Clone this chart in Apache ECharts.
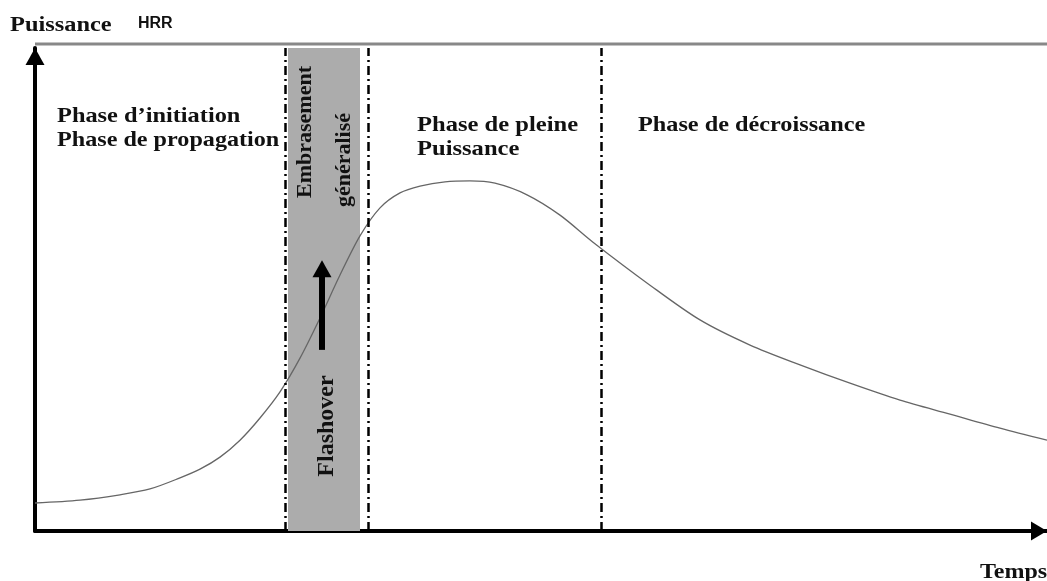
<!DOCTYPE html>
<html>
<head>
<meta charset="utf-8">
<script src="https://cdn.jsdelivr.net/npm/echarts@6/dist/echarts.min.js"></script>
<style>
html, body { margin: 0; padding: 0; background: #fff; }
#main { width: 1047px; height: 581px; }
</style>
</head>
<body>
<div id="main"></div>
<script>
// courbe HRR (temps en unites arbitraires, puissance en %)
let temps = [0, 45, 85, 115, 145, 165, 185, 205, 225, 245, 265, 285, 305, 325, 345, 365, 385, 410, 435, 460, 492, 525, 558, 615, 665, 715, 765, 815, 865, 915, 965, 1012]
let puissance = [5.8, 6.4, 7.5, 8.7, 11.0, 12.8, 15.3, 18.8, 23.4, 28.8, 35.8, 44.1, 53.0, 61.1, 66.9, 70.0, 71.4, 72.3, 72.5, 72.0, 69.6, 65.4, 59.8, 50.9, 43.7, 38.5, 34.4, 30.6, 27.1, 24.2, 21.3, 18.8]
// limites des phases (traits mixtes)
let limites = [250, 333, 566]
// zone grisee : embrasement generalise
let embrasement = [253, 325]
// fleche flashover : temps, puissance bas, puissance haut de la tige, centre de la pointe
let flecheTemps = 287
let flecheTige = [37.5, 53.6]
let flechePointe = 54.3

let serieData = temps.map((t, i) => [t, puissance[i]])

let serif = '"Liberation Serif", "Times New Roman", serif'

function texte(str, x, y, size, opts) {
    opts = opts || {}
    return {
        type: 'text',
        x: x,
        y: y,
        rotation: opts.rotation || 0,
        scaleX: opts.scaleX || 1,
        z: 100,
        style: {
            text: str,
            fill: '#111',
            font: 'bold ' + size + 'px ' + (opts.family || serif),
            textAlign: opts.align || 'left',
            textVerticalAlign: opts.valign || 'top'
        }
    }
}

let myChart = echarts.init(document.getElementById('main'))
let option = {
    animation: false,
    grid: { left: 35, right: 0, top: 48, bottom: 50 },
    xAxis: {
        type: 'value',
        min: 0,
        max: 1012,
        axisLine: {
            show: true,
            lineStyle: { color: '#000', width: 4 },
            symbol: ['none', 'triangle'],
            symbolSize: [19, 16],
            symbolOffset: [0, -8]
        },
        axisTick: { show: false },
        axisLabel: { show: false },
        splitLine: { show: false }
    },
    yAxis: {
        type: 'value',
        min: 0,
        max: 100,
        axisLine: {
            show: true,
            lineStyle: { color: '#000', width: 4 },
            symbol: ['none', 'triangle'],
            symbolSize: [19, 17],
            symbolOffset: [0, -8.5]
        },
        axisTick: { show: false },
        axisLabel: { show: false },
        splitLine: { show: false }
    },
    series: [
        {
            // zone grise
            type: 'line',
            data: [],
            z: 1,
            markArea: {
                silent: true,
                itemStyle: { color: '#acacac' },
                data: [[{ xAxis: embrasement[0] }, { xAxis: embrasement[1] }]]
            }
        },
        {
            type: 'line',
            data: serieData,
            smooth: 0.3,
            showSymbol: false,
            z: 3,
            lineStyle: { color: '#666', width: 1.3 },
            markLine: {
                silent: true,
                symbol: 'none',
                label: { show: false },
                lineStyle: { color: '#000', width: 2.5, type: [9, 4, 2, 4] },
                data: limites.map(v => ({ xAxis: v }))
            }
        },
        {
            // fleche
            type: 'line',
            data: [],
            z: 4,
            markLine: {
                silent: true,
                symbol: 'none',
                label: { show: false },
                lineStyle: { color: '#000', width: 6, type: 'solid' },
                data: [[
                    { coord: [flecheTemps, flecheTige[0]] },
                    { coord: [flecheTemps, flecheTige[1]] }
                ]]
            },
            markPoint: {
                silent: true,
                symbol: 'triangle',
                symbolSize: [19, 17],
                label: { show: false },
                itemStyle: { color: '#000' },
                data: [{ coord: [flecheTemps, flechePointe] }]
            }
        }
    ],
    graphic: [
        {
            type: 'line',
            shape: { x1: 35, y1: 44, x2: 1047, y2: 44 },
            style: { stroke: '#888', lineWidth: 3 },
            z: 50
        },
        texte('Puissance', 10, 16, 20, { scaleX: 1.22 }),
        texte('HRR', 138, 16, 16, { family: '"Liberation Sans", Arial, sans-serif' }),
        texte('Temps', 980, 563, 20, { scaleX: 1.2 }),
        texte('Phase d\u2019initiation', 57, 106, 21, { scaleX: 1.16 }),
        texte('Phase de propagation', 57, 130, 21, { scaleX: 1.15 }),
        texte('Phase de pleine', 417, 115, 21, { scaleX: 1.17 }),
        texte('Puissance', 417, 139, 21, { scaleX: 1.17 }),
        texte('Phase de décroissance', 638, 115, 21, { scaleX: 1.155 }),
        texte('Embrasement', 305, 132, 22, { rotation: Math.PI / 2, align: 'center', valign: 'middle' }),
        texte('généralisé', 344, 160, 22, { rotation: Math.PI / 2, align: 'center', valign: 'middle' }),
        texte('Flashover', 327, 426, 24, { rotation: Math.PI / 2, align: 'center', valign: 'middle' })
    ]
}
myChart.setOption(option)
</script>
</body>
</html>
